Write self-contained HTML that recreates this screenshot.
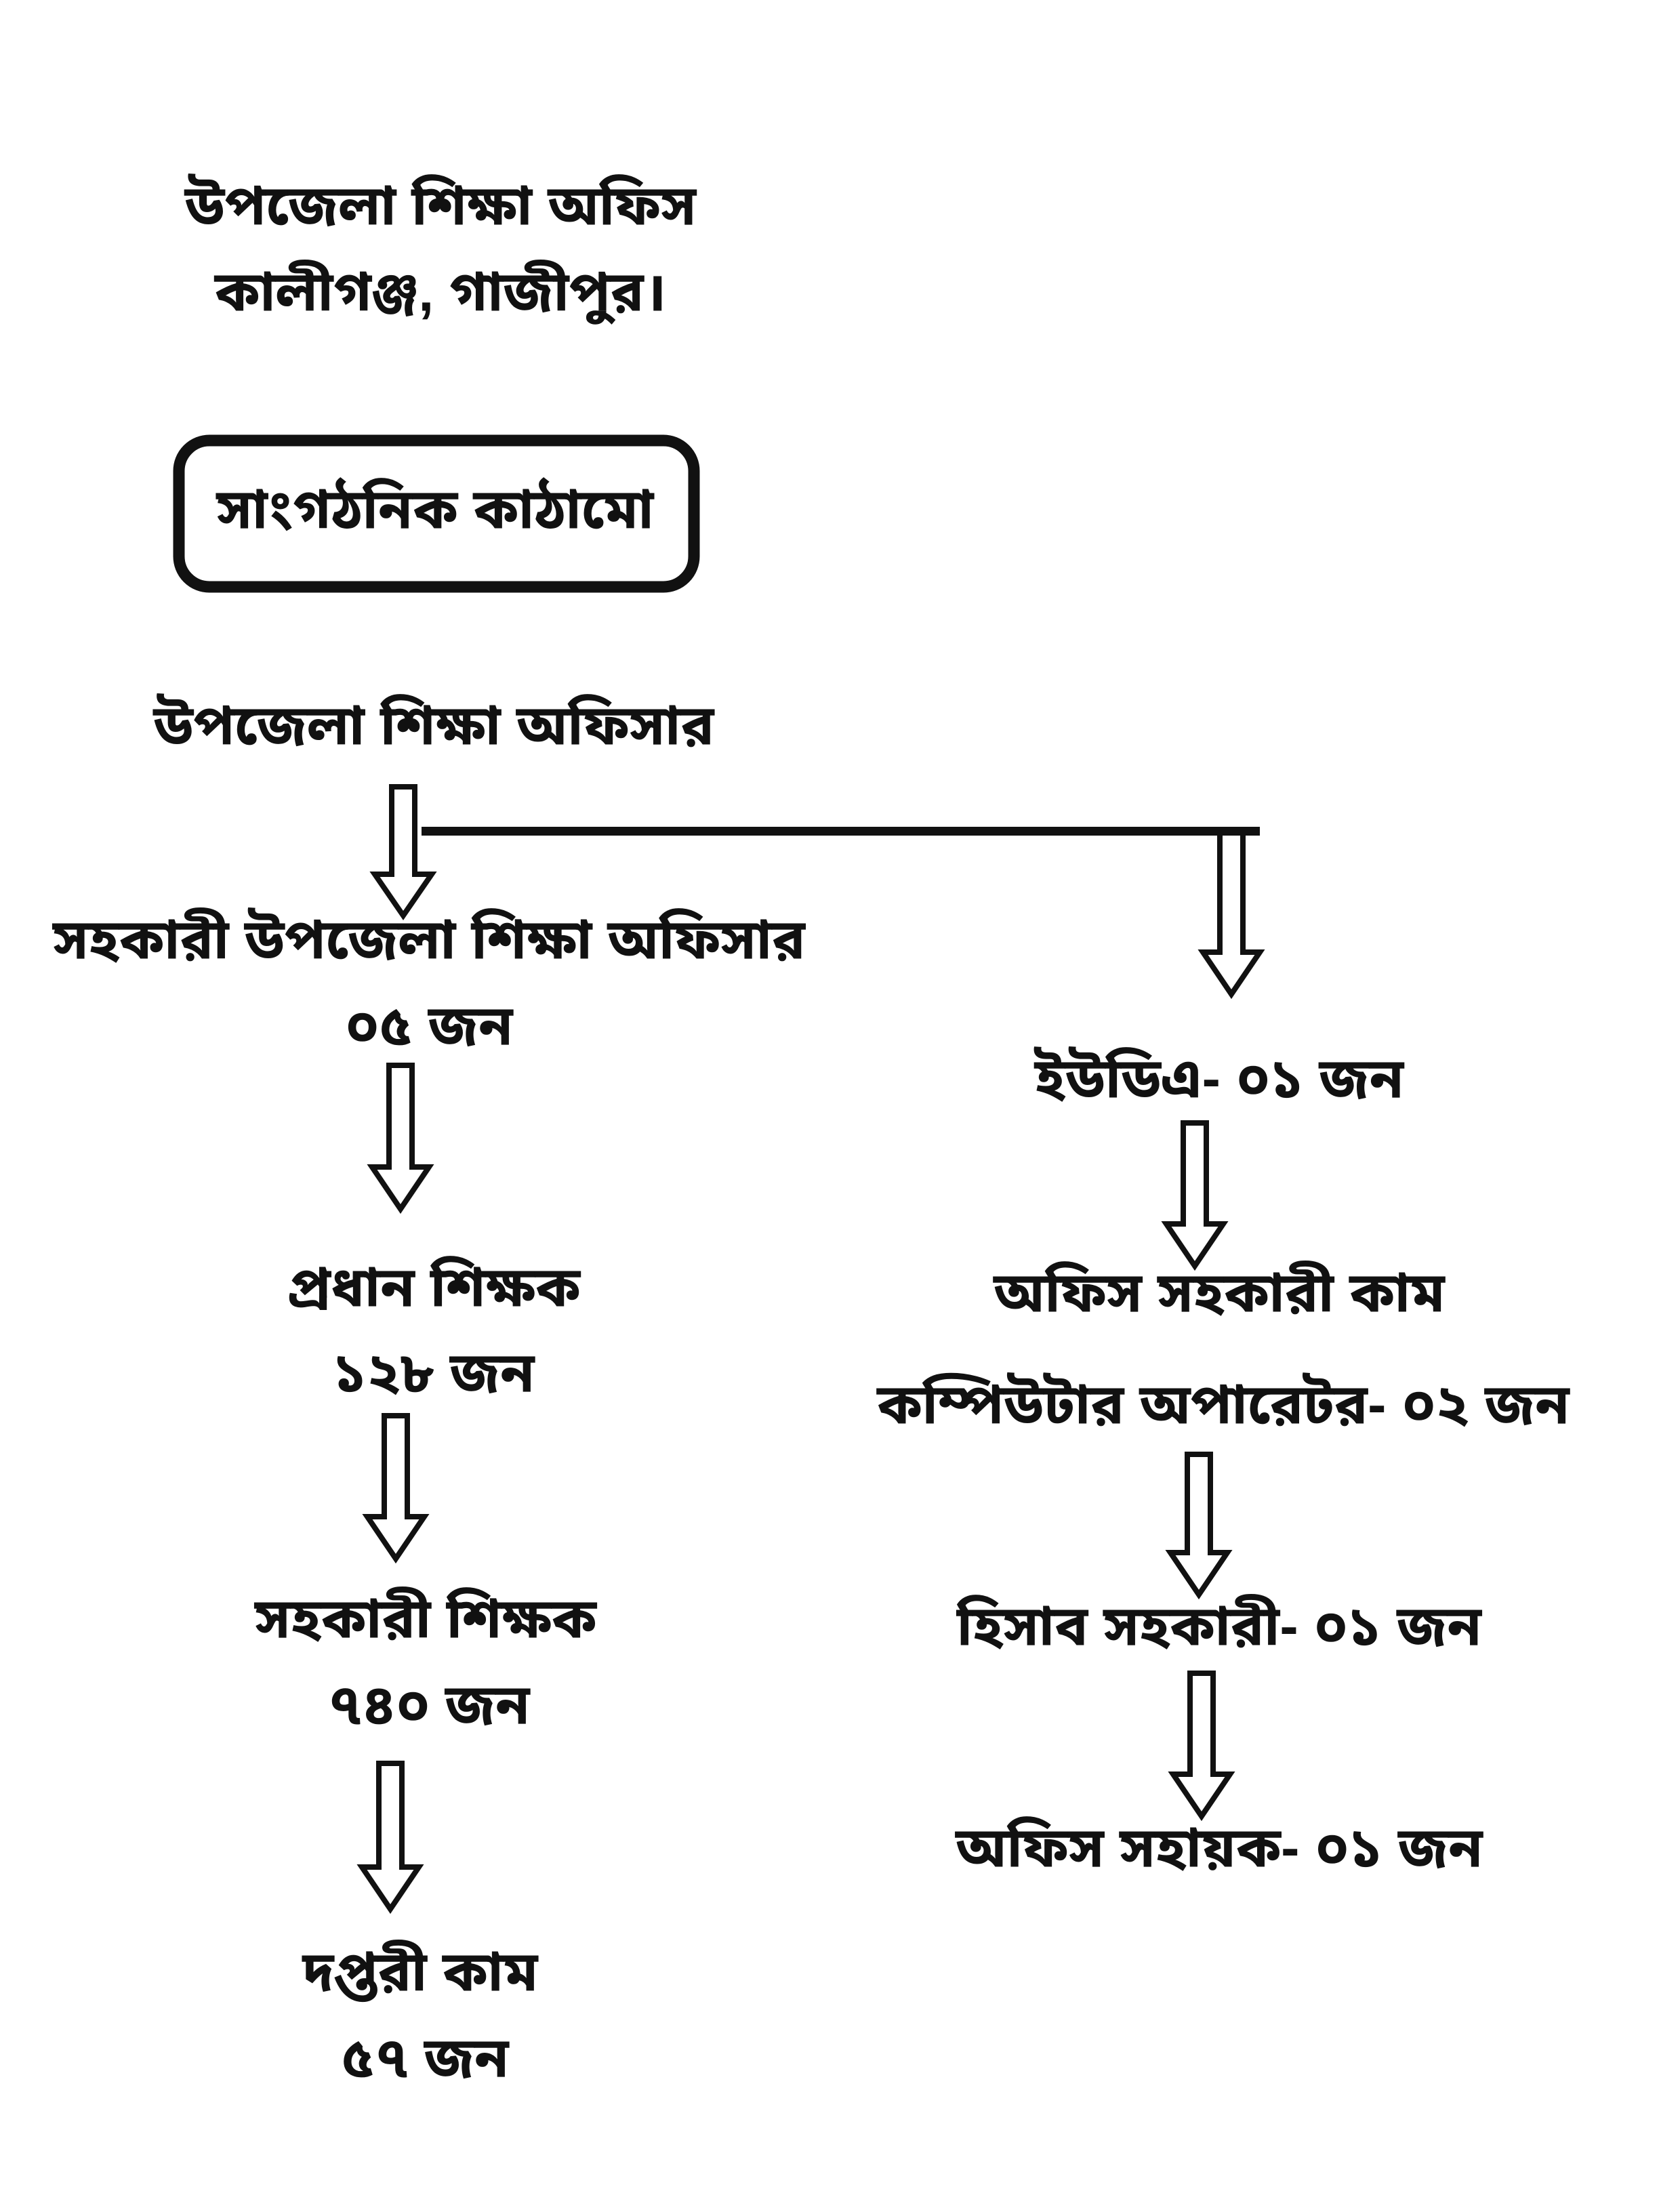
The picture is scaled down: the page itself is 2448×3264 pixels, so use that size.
<!DOCTYPE html>
<html><head><meta charset="utf-8"><style>
html,body{margin:0;padding:0;background:#fff;}
svg{display:block}
text{font-family:"Liberation Sans","Noto Sans Bengali","Lohit Bengali",sans-serif;font-size:82px;font-weight:bold;fill:#111;text-anchor:middle;dominant-baseline:middle}
.a{fill:none;stroke:#111;stroke-width:8;stroke-linejoin:miter}
</style></head><body>
<svg width="2448" height="3264" viewBox="0 0 2448 3264" xmlns="http://www.w3.org/2000/svg">
<g transform="translate(0,-10)">
<text x="650" y="320">উপজেলা শিক্ষা অফিস</text>
<text x="650" y="447">কালীগঞ্জ, গাজীপুর।</text>
<rect x="264" y="660" width="760" height="216" rx="45" ry="45" fill="none" stroke="#111" stroke-width="17"/>
<text x="642" y="768">সাংগঠনিক কাঠামো</text>
<text x="640" y="1087">উপজেলা শিক্ষা অফিসার</text>
<rect x="622" y="1230" width="1237" height="13" fill="#111"/>

<g class="a">
<path d="M578,1171 L578,1300 L553,1300 L595,1361 L637,1300 L612,1300 L612,1171 Z"/>
<path d="M1800,1238 L1800,1415 L1775,1415 L1817,1477 L1859,1415 L1834,1415 L1834,1238"/>
<path d="M574,1582 L574,1732 L549,1732 L591,1794 L633,1732 L608,1732 L608,1582 Z"/>
<path d="M567,2099 L567,2248 L542,2248 L584,2310 L626,2248 L601,2248 L601,2099 Z"/>
<path d="M559,2612 L559,2765 L534,2765 L576,2827 L618,2765 L593,2765 L593,2612 Z"/>
<path d="M1746,1667 L1746,1816 L1721,1816 L1763,1878 L1805,1816 L1780,1816 L1780,1667 Z"/>
<path d="M1752,2156 L1752,2301 L1727,2301 L1769,2363 L1811,2301 L1786,2301 L1786,2156 Z"/>
<path d="M1756,2479 L1756,2628 L1731,2628 L1773,2690 L1815,2628 L1790,2628 L1790,2479 Z"/>
</g>

<text x="633" y="1403">সহকারী উপজেলা শিক্ষা অফিসার</text>
<text x="633" y="1530">০৫ জন</text>
<text x="640" y="1916">প্রধান শিক্ষক</text>
<text x="640" y="2042">১২৮ জন</text>
<text x="628" y="2405">সহকারী শিক্ষক</text>
<text x="633" y="2532">৭৪০ জন</text>
<text x="620" y="2926">দপ্তরী কাম</text>
<text x="627" y="3053">৫৭ জন</text>

<text x="1799" y="1608">ইউডিএ- ০১ জন</text>
<text x="1799" y="1924">অফিস সহকারী কাম</text>
<text x="1805" y="2089">কম্পিউটার অপারেটর- ০২ জন</text>
<text x="1799" y="2416">হিসাব সহকারী- ০১ জন</text>
<text x="1799" y="2743">অফিস সহায়ক- ০১ জন</text>
</g>
</svg>
</body></html>
